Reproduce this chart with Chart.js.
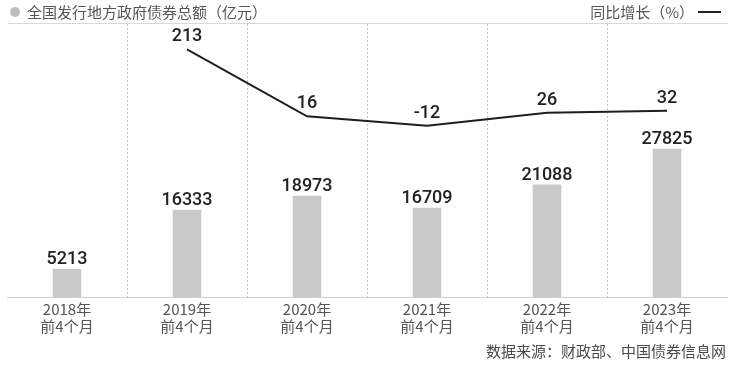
<!DOCTYPE html>
<html lang="zh">
<head>
<meta charset="UTF-8">
<title>全国发行地方政府债券总额</title>
<script src="https://cdn.jsdelivr.net/npm/chart.js"></script>
<style>
  html, body { margin: 0; padding: 0; background: #fff; }
  #wrap { width: 736px; height: 366px; position: relative; }
</style>
</head>
<body>
<div id="wrap"><canvas id="chart"></canvas></div>
<script>
// data
const years = [['2018年', '前4个月'], ['2019年', '前4个月'], ['2020年', '前4个月'],
               ['2021年', '前4个月'], ['2022年', '前4个月'], ['2023年', '前4个月']];
const bondTotal = [5213, 16333, 18973, 16709, 21088, 27825];   // 亿元
const yoyGrowth = [null, 213, 16, -12, 26, 32];                 // %

const barTitle = '全国发行地方政府债券总额（亿元）';
const lineTitle = '同比增长（%）';
const sourceNote = '数据来源：财政部、中国债券信息网';

const CJK = '"Noto Sans CJK SC", "Noto Sans", sans-serif';

// draws legend, top rule, dotted dividers, value labels, source
const decor = {
  id: 'decor',
  beforeDatasetsDraw(chart) {
    const { ctx, chartArea } = chart;
    const x = chart.scales.x;
    ctx.save();
    // top rule
    ctx.strokeStyle = '#d9d9d9';
    ctx.lineWidth = 1;
    ctx.beginPath();
    ctx.moveTo(chartArea.left + 1, chartArea.top + 0.5);
    ctx.lineTo(chartArea.right + 1, chartArea.top + 0.5);
    ctx.stroke();
    // dotted dividers between categories
    ctx.strokeStyle = '#c4c4c4';
    ctx.setLineDash([2, 2]);
    for (let i = 1; i < years.length; i++) {
      const px = Math.round((x.getPixelForValue(i - 1) + x.getPixelForValue(i)) / 2) + 0.5;
      ctx.beginPath();
      ctx.moveTo(px, chartArea.top + 1);
      ctx.lineTo(px, chartArea.bottom);
      ctx.stroke();
    }
    ctx.restore();
  },
  afterDatasetsDraw(chart) {
    const { ctx } = chart;
    ctx.save();
    // value labels (dataset 0 = line, dataset 1 = bars)
    ctx.font = '500 18px Roboto, sans-serif';
    ctx.fillStyle = '#222';
    ctx.textAlign = 'center';
    ctx.textBaseline = 'alphabetic';
    chart.getDatasetMeta(1).data.forEach((bar, i) => {
      ctx.fillText(String(bondTotal[i]), bar.x, bar.y - 5);
    });
    chart.getDatasetMeta(0).data.forEach((pt, i) => {
      if (yoyGrowth[i] === null) return;
      ctx.fillText(String(yoyGrowth[i]), pt.x, pt.y - 8);
    });

    // legend left
    ctx.fillStyle = '#bdbdbd';
    ctx.beginPath();
    ctx.arc(15, 12, 5, 0, Math.PI * 2);
    ctx.fill();
    ctx.font = '15px ' + CJK;
    ctx.fillStyle = '#555';
    ctx.textAlign = 'left';
    ctx.textBaseline = 'middle';
    ctx.fillText(barTitle, 27, 12);

    // legend right
    ctx.textAlign = 'right';
    ctx.fillText(lineTitle, 694, 12);
    ctx.strokeStyle = '#222';
    ctx.lineWidth = 2;
    ctx.beginPath();
    ctx.moveTo(698, 12);
    ctx.lineTo(721, 12);
    ctx.stroke();

    // source
    ctx.font = '15px ' + CJK;
    ctx.fillStyle = '#4a4a4a';
    ctx.textAlign = 'right';
    ctx.fillText(sourceNote, 726, 351);
    ctx.restore();
  }
};

new Chart(document.getElementById('chart'), {
  data: {
    labels: years,
    datasets: [
      {
        type: 'line',
        data: yoyGrowth,
        yAxisID: 'y1',
        borderColor: '#1e1e1e',
        borderWidth: 2,
        pointRadius: 0,
        tension: 0,
        order: 0
      },
      {
        type: 'bar',
        data: bondTotal,
        yAxisID: 'y',
        backgroundColor: '#c9c9c9',
        barThickness: 28,
        order: 1
      }
    ]
  },
  options: {
    responsive: true,
    maintainAspectRatio: false,
    animation: false,
    events: [],
    layout: { padding: { left: 7, right: 9, top: 23, bottom: 19 } },
    plugins: { legend: { display: false }, tooltip: { enabled: false } },
    scales: {
      x: {
        offset: true,
        grid: { display: false, drawTicks: false },
        border: { display: true, color: '#cfcfcf', width: 1 },
        ticks: {
          color: '#555',
          padding: 4,
          font: { family: CJK, size: 15, lineHeight: 1.13 },
          maxRotation: 0,
          autoSkip: false
        },
        afterFit(scale) { scale.height = 50; }
      },
      y: {
        display: false,
        min: 0,
        max: 51500
      },
      y1: {
        display: false,
        min: -517,
        max: 291
      }
    }
  },
  plugins: [decor]
});
</script>
</body>
</html>
